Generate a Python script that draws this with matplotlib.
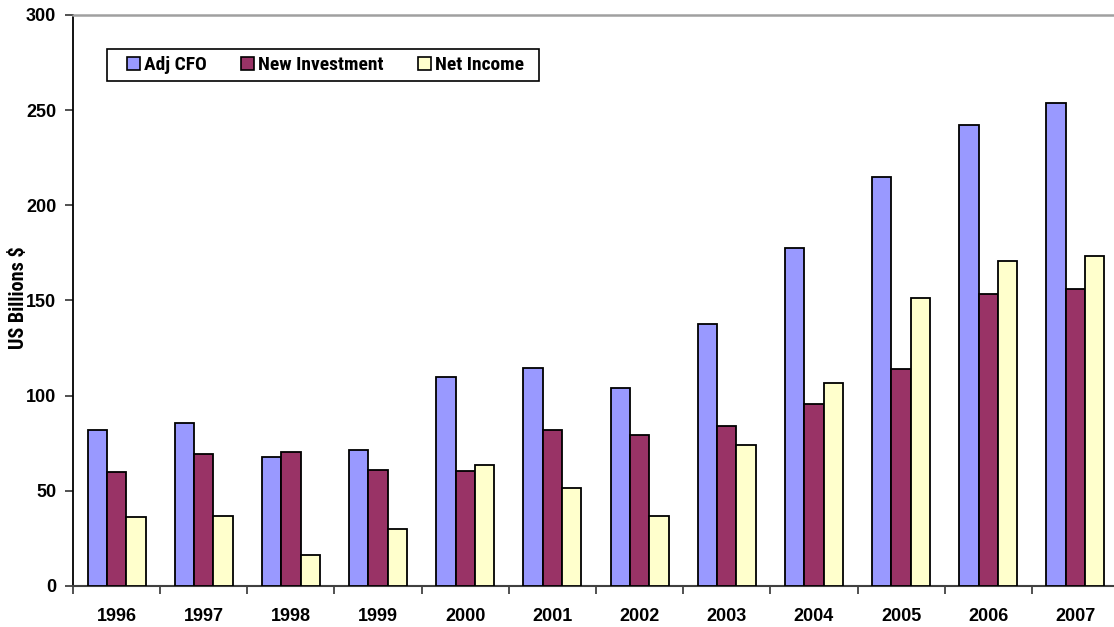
import numpy as np
import matplotlib
matplotlib.use("Agg")
import matplotlib.pyplot as plt
from matplotlib.patches import Patch, Rectangle
from matplotlib.font_manager import FontProperties

YEARS = ["1996", "1997", "1998", "1999", "2000", "2001",
         "2002", "2003", "2004", "2005", "2006", "2007"]
ADJ_CFO = [82.1, 85.8, 67.9, 71.6, 109.6, 114.7, 104.2, 137.6, 177.6, 215.0, 242.4, 253.8]
NEW_INVESTMENT = [59.9, 69.5, 70.2, 61.1, 60.2, 82.0, 79.5, 84.2, 95.6, 114.1, 153.6, 156.2]
NET_INCOME = [36.2, 36.9, 16.5, 29.9, 63.7, 51.7, 36.8, 74.1, 106.6, 151.4, 170.5, 173.4]

SERIES = [
    ("Adj CFO", ADJ_CFO, "#9999FF"),
    ("New Investment", NEW_INVESTMENT, "#993366"),
    ("Net Income", NET_INCOME, "#FFFFCC"),
]

REGULAR = ["Liberation Sans", "DejaVu Sans"]
W, H = 1114, 627


def narrow(size):
    return FontProperties(family=["Roboto Condensed", "DejaVu Sans"],
                          stretch="condensed", weight="bold", size=size)


fig = plt.figure(figsize=(W / 100, H / 100), dpi=100)
ax = fig.add_axes([73 / W, 41 / H, 1046 / W, 571 / H])

x = np.arange(len(YEARS))
width = 0.222
for i, (label, values, color) in enumerate(SERIES):
    ax.bar(x + (i - 1) * width, values, width, color=color,
           edgecolor="black", linewidth=1.3, label=label, zorder=3)

ax.set_xlim(-0.5, len(YEARS) - 0.5)
ax.set_ylim(0, 300)
ax.set_yticks(range(0, 301, 50))
ax.set_yticklabels([str(v) for v in range(0, 301, 50)],
                   fontfamily=REGULAR, fontweight="bold", fontsize=13)

# category labels at centres, tick marks at the boundaries between groups
ax.set_xticks(x)
ax.set_xticklabels(YEARS, fontfamily=REGULAR, fontweight="bold", fontsize=13)
ax.set_xticks(np.arange(-0.5, len(YEARS), 1.0), minor=True)
ax.tick_params(axis="x", which="major", length=0, pad=16)
ax.tick_params(axis="x", which="minor", length=6, width=1.2, color="#333333",
               direction="out")
ax.tick_params(axis="y", length=6, width=1.2, color="#333333", direction="out", pad=6)

ax.spines["left"].set_color("black")
ax.spines["left"].set_linewidth(1.3)
ax.spines["bottom"].set_color("#404040")
ax.spines["bottom"].set_linewidth(1.5)
ax.spines["top"].set_color("#a0a0a0")
ax.spines["top"].set_linewidth(1.8)
ax.spines["right"].set_visible(False)

fig.text(19 / W, 1 - 298 / H, "US Billions $", rotation=90,
         ha="center", va="center", fontproperties=narrow(14.5))

# legend box drawn separately so the inner margins can be wider than tall
fig.add_artist(Rectangle((107 / W, 1 - 81 / H), 432 / W, 32 / H,
                         transform=fig.transFigure, facecolor="white",
                         edgecolor="black", linewidth=1.2, zorder=4))
handles = [Patch(facecolor=c, edgecolor="black", linewidth=1.2, label=l)
           for l, _, c in SERIES]
leg = fig.legend(handles=handles, loc="center left",
                 bbox_to_anchor=(127 / W, 1 - 65 / H), ncol=3,
                 frameon=False, handlelength=0.68, handleheight=0.68,
                 handletextpad=0.2, columnspacing=1.75, borderpad=0,
                 borderaxespad=0, prop=narrow(14))
leg.set_zorder(5)

fig.savefig("out.png", dpi=100)
